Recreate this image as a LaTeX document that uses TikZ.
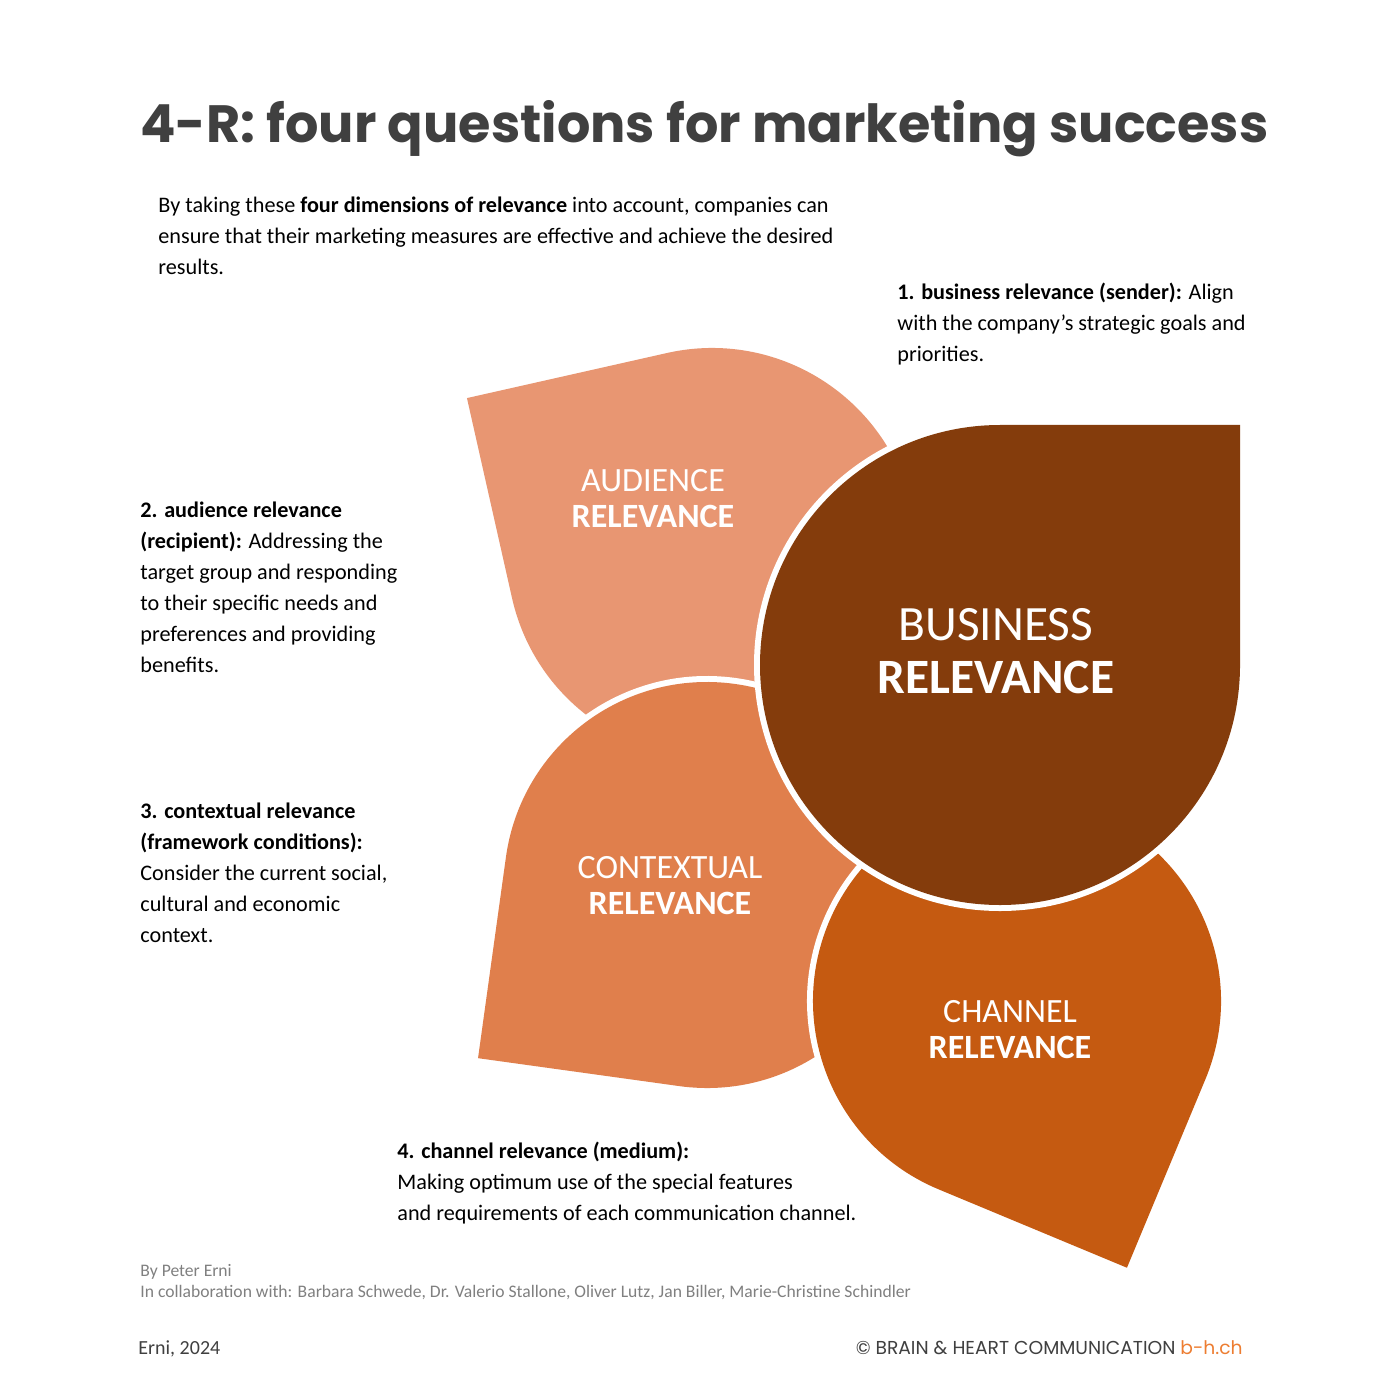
\documentclass[tikz,border=0pt]{standalone}
\usepackage{fontspec}
\setmainfont{Carlito}[Ligatures=ResetAll]
\newfontfamily\titlefont{Poppins}
\usetikzlibrary{calc}
\definecolor{audc}{RGB}{232,150,114}
\definecolor{conc}{RGB}{224,127,76}
\definecolor{busc}{RGB}{132,60,12}
\definecolor{chac}{RGB}{197,90,17}
\definecolor{titc}{RGB}{64,64,64}
\definecolor{footc}{RGB}{128,128,128}
\definecolor{linkc}{RGB}{237,125,49}
\newcommand\leafshape[5]{%
  \path[preaction={draw=white,line width=6pt},fill=#5]
    (#1,#2) ++({#4-45}:#3) arc[start angle={#4-45},delta angle=-270,radius=#3]
    -- ($(#1,#2)+(#4:{1.41421*#3})$) -- cycle;}
\tikzset{
  shapetext/.style={text=white,align=center,inner sep=0pt,font=\fontsize{17}{18}\selectfont},
  bigtext/.style={text=white,align=center,inner sep=0pt,font=\fontsize{24.7}{26.5}\selectfont},
  para/.style={anchor=base west,align=left,inner sep=0pt,text=black,font=\fontsize{11.1}{15.5}\selectfont},
  foot/.style={anchor=base west,align=left,inner sep=0pt,text=footc,font=\fontsize{8.8}{10.5}\selectfont}
}
\begin{document}
\begin{tikzpicture}[x=0.5pt,y=-0.5pt]
\useasboundingbox (0,0) rectangle (1400,1400);
\fill[white] (0,0) rectangle (1400,1400);
% shapes
\leafshape{712}{553}{205}{212.3}{audc}
\leafshape{707}{885}{203}{142.9}{conc}
\leafshape{1017}{1001}{204}{67.6}{chac}
\leafshape{1000}{665}{240}{-45}{busc}
% shape labels
\node[shapetext] (audt) at (653,499) {AUDIENCE\\\textbf{RELEVANCE}};
\node[shapetext] (cont) at (670,886) {CONTEXTUAL\\\textbf{RELEVANCE}};
\node[shapetext] (chat) at (1010,1030) {CHANNEL\\\textbf{RELEVANCE}};
\node[bigtext] (bust) at (996,651) {BUSINESS\\\textbf{RELEVANCE}};
% title
\node[anchor=base west,inner sep=0pt,text=titc] (title) at (140,143)
  {\resizebox{564pt}{!}{\titlefont\bfseries 4-R: four questions for marketing success}};
% paragraphs (anchor = baseline of last line)
\node[para] (intro) at (158,275) {By taking these \textbf{four dimensions of relevance} into account, companies can\\ensure that their marketing measures are effective and achieve the desired\\results.};
\node[para] (p1) at (897,362) {\textbf{1. business relevance (sender):} Align\\with the company's strategic goals and\\priorities.};
\node[para] (p2) at (140,672) {\textbf{2. audience relevance}\\\textbf{(recipient):} Addressing the\\target group and responding\\to their specific needs and\\preferences and providing\\benefits.};
\node[para] (p3) at (140,942) {\textbf{3. contextual relevance}\\\textbf{(framework conditions):}\\Consider the current social,\\cultural and economic\\context.};
\node[para] (p4) at (397,1220) {\textbf{4. channel relevance (medium):}\\Making optimum use of the special features\\and requirements of each communication channel.};
% footer
\node[foot] (by) at (140,1297) {By Peter Erni\\In collaboration with: Barbara Schwede, Dr. Valerio Stallone, Oliver Lutz, Jan Biller, Marie-Christine Schindler};
\node[anchor=base west,inner sep=0pt,text=titc,font=\fontsize{10}{12}\selectfont] (year) at (138,1354) {Erni, 2024};
\node[anchor=base east,inner sep=0pt,text=titc,font=\titlefont\fontsize{9.35}{11}\selectfont] (copy) at (1243,1354) {© BRAIN \& HEART COMMUNICATION \textcolor{linkc}{b-h.ch}};
\end{tikzpicture}
\end{document}
